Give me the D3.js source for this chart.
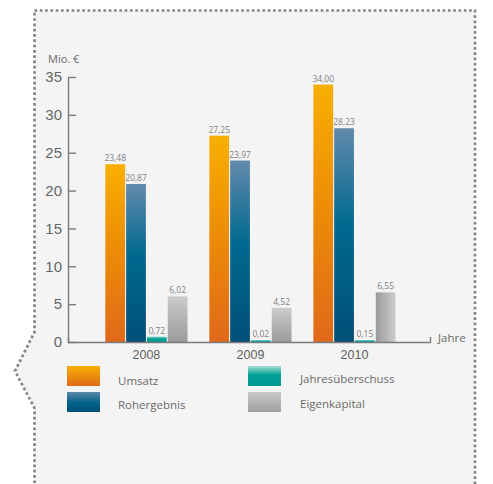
<!DOCTYPE html>
<html>
<head>
<meta charset="utf-8">
<script src="https://cdn.jsdelivr.net/npm/d3@7"></script>
<style>
  html, body { margin: 0; padding: 0; background: #ffffff; }
  svg { display: block; font-family: "Open Sans", "Noto Sans", sans-serif; }
</style>
</head>
<body>
<svg id="chart" width="493" height="484"></svg>
<script>
// Kennzahlen in Mio. €
const years = ["2008", "2009", "2010"];
const series = ["Umsatz", "Rohergebnis", "Jahresüberschuss", "Eigenkapital"];
const umsatz = [23.48, 27.25, 34.00];
const rohergebnis = [20.87, 23.97, 28.23];
const jahresueberschuss = [0.72, 0.02, 0.15];
const eigenkapital = [6.02, 4.52, 6.55];
const yTicks = [0, 5, 10, 15, 20, 25, 30, 35];

const valuesBySeries = [umsatz, rohergebnis, jahresueberschuss, eigenkapital];
const rows = years.map((yr, i) => ({
  year: yr,
  values: series.map((s, j) => ({ key: s, year: yr, value: valuesBySeries[j][i] }))
}));

const svg = d3.select("#chart");
const fmt = v => d3.format(".2f")(v).replace(".", ",");

// Gradients
const defs = svg.append("defs");
function grad(id, stops, horizontal) {
  const g = defs.append("linearGradient").attr("id", id)
    .attr("x1", 0).attr("y1", 0)
    .attr("x2", horizontal ? 1 : 0).attr("y2", horizontal ? 0 : 1);
  stops.forEach(([o, c]) => g.append("stop").attr("offset", o).attr("stop-color", c));
}
grad("g-umsatz", [[0, "#f8af00"], [0.5, "#ec8b06"], [1, "#e0691a"]]);
grad("g-roh", [[0, "#628aac"], [0.45, "#00698f"], [1, "#004f77"]]);
grad("g-jahr", [[0, "#9ad8cb"], [0.4, "#00a198"], [1, "#009890"]]);
grad("g-eigen", [[0, "#cbcbcb"], [1, "#9b9b9b"]]);
grad("g-eigen-h", [[0, "#9a9a9a"], [1, "#cdcdcd"]], true);
grad("g-umsatz-l", [[0, "#f7ad00"], [1, "#e06c18"]]);
grad("g-roh-l", [[0, "#5f88aa"], [0.55, "#00628a"], [1, "#004f77"]]);
grad("g-jahr-l", [[0, "#a8ddd1"], [0.45, "#00a198"], [1, "#009a92"]]);
grad("g-eigen-l", [[0, "#c9c9c9"], [1, "#a0a0a0"]]);

const barFill = {
  "Umsatz": "url(#g-umsatz)",
  "Rohergebnis": "url(#g-roh)",
  "Jahresüberschuss": "url(#g-jahr)",
  "Eigenkapital": "url(#g-eigen)"
};
const legendFill = {
  "Umsatz": "url(#g-umsatz-l)",
  "Rohergebnis": "url(#g-roh-l)",
  "Jahresüberschuss": "url(#g-jahr-l)",
  "Eigenkapital": "url(#g-eigen-l)"
};

// Dotted frame with a pointer on the left side
const frame = [[34.5, 10.5], [475, 10.5], [475, 490], [34.5, 490], [34.5, 408], [15, 371], [34.5, 332]];
svg.append("path")
  .attr("d", d3.line()(frame) + "Z")
  .attr("fill", "#f4f4f4");
svg.append("path")
  .attr("d", d3.line()(frame) + "Z")
  .attr("fill", "none")
  .attr("stroke", "#858585")
  .attr("stroke-width", 2.7)
  .attr("stroke-dasharray", "2.7 2.6");

// Scales
const y = d3.scaleLinear().domain([0, 35]).range([342, 77]);
const x = d3.scaleBand().domain(years).range([68, 430])
  .paddingInner(0.21).paddingOuter(0.345).align(0.52);
const xs = d3.scaleBand().domain(series).range([0, x.bandwidth()]).paddingInner(0.05);

// Very small values still get a thin visible bar
const minBar = 1.6;
const barH = v => Math.max(y(0) - y(v), minBar);

function fillFor(d) {
  if (d.key === "Eigenkapital" && d.year === "2010") return "url(#g-eigen-h)";
  if (d.key === "Jahresüberschuss" && barH(d.value) < 3) return "#00a198";
  return barFill[d.key];
}

// Bars
const groups = svg.append("g").selectAll("g").data(rows).join("g")
  .attr("transform", d => `translate(${x(d.year)},0)`);

groups.selectAll("rect").data(d => d.values).join("rect")
  .attr("x", d => xs(d.key))
  .attr("width", xs.bandwidth())
  .attr("y", d => y(0) - barH(d.value))
  .attr("height", d => barH(d.value))
  .attr("fill", fillFor);

groups.selectAll("text").data(d => d.values).join("text")
  .attr("x", d => xs(d.key) + xs.bandwidth() / 2)
  .attr("y", d => y(0) - barH(d.value) - 3)
  .attr("text-anchor", "middle")
  .attr("font-size", 8.5)
  .attr("fill", "#808080")
  .text(d => fmt(d.value));

// Y axis
const yAxis = svg.append("g").attr("transform", "translate(68,0)")
  .call(d3.axisLeft(y).tickValues(yTicks).tickSize(-8).tickSizeOuter(0).tickPadding(6));
yAxis.select(".domain").attr("stroke", "#7a7a7a").attr("stroke-width", 1.4);
yAxis.selectAll(".tick line").attr("stroke", "#7a7a7a").attr("stroke-width", 1.4);
yAxis.selectAll(".tick text").attr("font-size", 15).attr("fill", "#666").attr("font-family", null);

svg.append("text").attr("x", 48).attr("y", 63)
  .attr("font-size", 11).attr("fill", "#6a6a6a").text("Mio. €");

// X axis
const xAxis = svg.append("g").attr("transform", "translate(0,342)")
  .call(d3.axisBottom(x).tickSize(0).tickSizeOuter(-5).tickPadding(8));
xAxis.select(".domain").attr("stroke", "#7a7a7a").attr("stroke-width", 1.4).attr("fill", "none");
xAxis.selectAll(".tick text").attr("font-size", 12.5).attr("fill", "#5e5e5e").attr("font-family", null);

svg.append("text").attr("x", 438).attr("y", 342)
  .attr("font-size", 11.5).attr("fill", "#6a6a6a").text("Jahre");

// Legend
const legendPos = [
  { key: "Umsatz", sx: 67, sy: 366, tx: 118, ty: 385 },
  { key: "Rohergebnis", sx: 67, sy: 392, tx: 118, ty: 409 },
  { key: "Jahresüberschuss", sx: 248, sy: 366, tx: 300, ty: 383 },
  { key: "Eigenkapital", sx: 248, sy: 392, tx: 300, ty: 408 }
];
const legend = svg.append("g").selectAll("g").data(legendPos).join("g");
legend.append("rect")
  .attr("x", d => d.sx).attr("y", d => d.sy)
  .attr("width", 33).attr("height", 20)
  .attr("fill", d => legendFill[d.key]);
legend.append("text")
  .attr("x", d => d.tx).attr("y", d => d.ty)
  .attr("font-size", 11.5).attr("fill", "#6a6a6a")
  .text(d => d.key);
</script>
</body>
</html>
